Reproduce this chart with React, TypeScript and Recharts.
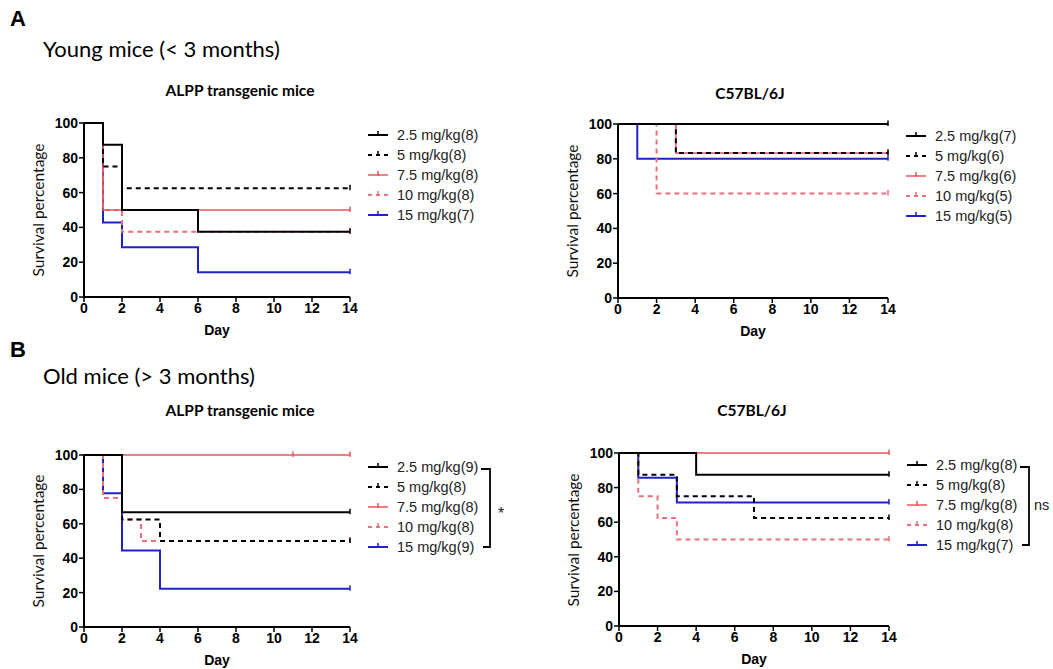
import { LineChart, Line, XAxis, YAxis } from 'recharts'

const dayTicks = [0, 2, 4, 6, 8, 10, 12, 14]
const survivalTicks = [0, 20, 40, 60, 80, 100]
const doses = ['2.5 mg/kg', '5 mg/kg', '7.5 mg/kg', '10 mg/kg', '15 mg/kg']

// [day, survival %]
const youngAlppN = [8, 8, 8, 8, 7]
const youngAlppCurves = [
  [[0, 100], [1, 87.5], [2, 50], [6, 37.5], [14, 37.5]],
  [[0, 100], [1, 75], [2, 62.5], [14, 62.5]],
  [[0, 100], [1, 50], [14, 50]],
  [[0, 100], [1, 50], [2, 37.5], [14, 37.5]],
  [[0, 100], [1, 42.86], [2, 28.57], [6, 14.29], [14, 14.29]],
]

const youngC57N = [7, 6, 6, 5, 5]
const youngC57Curves = [
  [[0, 100], [14, 100]],
  [[0, 100], [3, 83.33], [14, 83.33]],
  [[0, 100], [3, 83.33], [14, 83.33]],
  [[0, 100], [2, 60], [14, 60]],
  [[0, 100], [1, 80], [14, 80]],
]

const oldAlppN = [9, 8, 8, 8, 9]
const oldAlppCurves = [
  [[0, 100], [2, 66.67], [14, 66.67]],
  [[0, 100], [2, 62.5], [4, 50], [14, 50]],
  [[0, 100], [11, 100], [14, 100]],
  [[0, 100], [1, 75], [2, 62.5], [3, 50], [14, 50]],
  [[0, 100], [1, 77.78], [2, 44.44], [4, 22.22], [14, 22.22]],
]
const oldAlppCensored = [[], [], [11], [], []]

const oldC57N = [8, 8, 8, 8, 7]
const oldC57Curves = [
  [[0, 100], [4, 87.5], [14, 87.5]],
  [[0, 100], [1, 87.5], [3, 75], [7, 62.5], [14, 62.5]],
  [[0, 100], [14, 100]],
  [[0, 100], [1, 75], [2, 62.5], [3, 50], [14, 50]],
  [[0, 100], [1, 85.71], [3, 71.43], [14, 71.43]],
]

const styles = [
  { color: '#000000', width: 2, dash: undefined },
  { color: '#000000', width: 2, dash: '5 4' },
  { color: '#f0555a', width: 1.5, dash: undefined },
  { color: '#ec6f7c', width: 2, dash: '5 4' },
  { color: '#1f22c8', width: 2, dash: undefined },
]

const tickStyle = { fill: '#000', fontSize: 14, fontWeight: 700, fontFamily: 'Liberation Sans, Arial, sans-serif' }
const humanist = 'Lato, "Open Sans", sans-serif'

type PanelProps = {
  x0: number
  x1: number
  y0: number
  y1: number
  title: string
  titleX: number
  titleY: number
  counts: number[]
  curves: number[][][]
  censored?: number[][]
  mark?: string
}

function Panel({ x0, x1, y0, y1, title, titleX, titleY, counts, curves, censored, mark }: PanelProps) {
  const w = x1 - x0
  const h = y1 - y0
  const order = [4, 3, 2, 1, 0]
  return (
    <>
      <div
        style={{
          position: 'absolute', left: titleX - 150, top: titleY - 10, width: 300, textAlign: 'center',
          fontFamily: humanist, fontWeight: 700, fontSize: 15.5, lineHeight: '20px', color: '#000',
        }}
      >
        {title}
      </div>
      <div
        style={{
          position: 'absolute', left: x0 - 46 - 100, top: (y0 + y1) / 2 - 10, width: 200, textAlign: 'center',
          transform: 'rotate(-90deg)', fontFamily: humanist, fontSize: 15.5, lineHeight: '20px', color: '#111',
        }}
      >
        Survival percentage
      </div>
      <div
        style={{
          position: 'absolute', left: (x0 + x1) / 2 - 40, top: y1 + 24, width: 80, textAlign: 'center',
          fontFamily: 'Liberation Sans, Arial, sans-serif', fontWeight: 700, fontSize: 14, lineHeight: '18px', color: '#000',
        }}
      >
        Day
      </div>
      <div style={{ position: 'absolute', left: x0 - 60, top: y0 - 20 }}>
        <LineChart width={w + 70} height={h + 65} margin={{ top: 20, right: 10, left: 10, bottom: 0 }}>
          <XAxis
            type="number"
            dataKey="x"
            domain={[0, 14]}
            ticks={dayTicks}
            interval={0}
            height={45}
            tick={tickStyle}
            tickSize={5}
            tickMargin={1}
            axisLine={{ stroke: '#000', strokeWidth: 2 }}
            tickLine={{ stroke: '#000', strokeWidth: 1.5 }}
          />
          <YAxis
            type="number"
            domain={[0, 100]}
            ticks={survivalTicks}
            interval={0}
            width={50}
            tick={tickStyle}
            tickSize={5}
            tickMargin={1}
            axisLine={{ stroke: '#000', strokeWidth: 2 }}
            tickLine={{ stroke: '#000', strokeWidth: 1.5 }}
          />
          {order.map((i) => {
            const pts = curves[i].map(([x, y]) => ({ x, y }))
            const s = styles[i]
            const extra = censored ? censored[i] : []
            return (
              <Line
                key={doses[i]}
                data={pts}
                dataKey="y"
                type="stepAfter"
                stroke={s.color}
                strokeWidth={s.width}
                strokeDasharray={s.dash}
                isAnimationActive={false}
                activeDot={false}
                dot={(p: any) => {
                  const c = p.index === pts.length - 1 || extra.includes(p.payload.x)
                  if (!c) return <g key={p.index} />
                  return (
                    <line key={p.index} x1={p.cx} x2={p.cx} y1={p.cy - 3.5} y2={p.cy + 2} stroke={s.color} strokeWidth={1.5} />
                  )
                }}
              />
            )
          })}
        </LineChart>
      </div>
      <svg style={{ position: 'absolute', left: x1 + 18, top: y0 + 2 }} width={170} height={110}>
        {doses.map((d, i) => {
          const s = styles[i]
          const y = 10 + i * 20
          return (
            <g key={d}>
              <line x1={0} x2={20} y1={y} y2={y} stroke={s.color} strokeWidth={s.width} strokeDasharray={s.dash ? '4 4' : undefined} />
              <line x1={10} x2={10} y1={y - 4} y2={y + 1} stroke={s.color} strokeWidth={1.5} />
              <text x={29} y={y} dominantBaseline="central" fontFamily="Liberation Sans, Arial, sans-serif" fontSize={14.5} fill="#222">
                {`${d}(${counts[i]})`}
              </text>
            </g>
          )
        })}
        {mark && (
          <g stroke="#000" strokeWidth={1.8} fill="none">
            <polyline points="113,12 122,12 122,90 115,90" />
          </g>
        )}
        {mark && (
          <text x={mark === '*' ? 130 : 127} y={mark === '*' ? 56 : 50} dominantBaseline="central" fontFamily="Liberation Sans, Arial, sans-serif" fontSize={mark === '*' ? 16 : 14.5} fill="#222">
            {mark}
          </text>
        )}
      </svg>
    </>
  )
}

export default function App() {
  return (
    <div style={{ position: 'absolute', left: 0, top: 0, width: 1053, height: 669, background: '#fff', overflow: 'hidden' }}>
      <div style={{ position: 'absolute', left: 10, top: 6, fontFamily: 'Liberation Sans, Arial, sans-serif', fontWeight: 700, fontSize: 22 }}>A</div>
      <div style={{ position: 'absolute', left: 43, top: 35, fontFamily: humanist, fontSize: 22, color: '#000' }}>Young mice (&lt; 3 months)</div>
      <div style={{ position: 'absolute', left: 10, top: 337, fontFamily: 'Liberation Sans, Arial, sans-serif', fontWeight: 700, fontSize: 22 }}>B</div>
      <div style={{ position: 'absolute', left: 43, top: 362, fontFamily: humanist, fontSize: 22, color: '#000' }}>Old mice (&gt; 3 months)</div>

      <Panel x0={84} x1={350} y0={123} y1={297} title="ALPP transgenic mice" titleX={240} titleY={90}
        counts={youngAlppN} curves={youngAlppCurves} />
      <Panel x0={618} x1={888} y0={124} y1={298} title="C57BL/6J" titleX={750} titleY={93}
        counts={youngC57N} curves={youngC57Curves} />
      <Panel x0={84} x1={350} y0={455} y1={627} title="ALPP transgenic mice" titleX={240} titleY={410}
        counts={oldAlppN} curves={oldAlppCurves} censored={oldAlppCensored} mark="*" />
      <Panel x0={619} x1={889} y0={453} y1={626} title="C57BL/6J" titleX={752} titleY={410}
        counts={oldC57N} curves={oldC57Curves} mark="ns" />
    </div>
  )
}
